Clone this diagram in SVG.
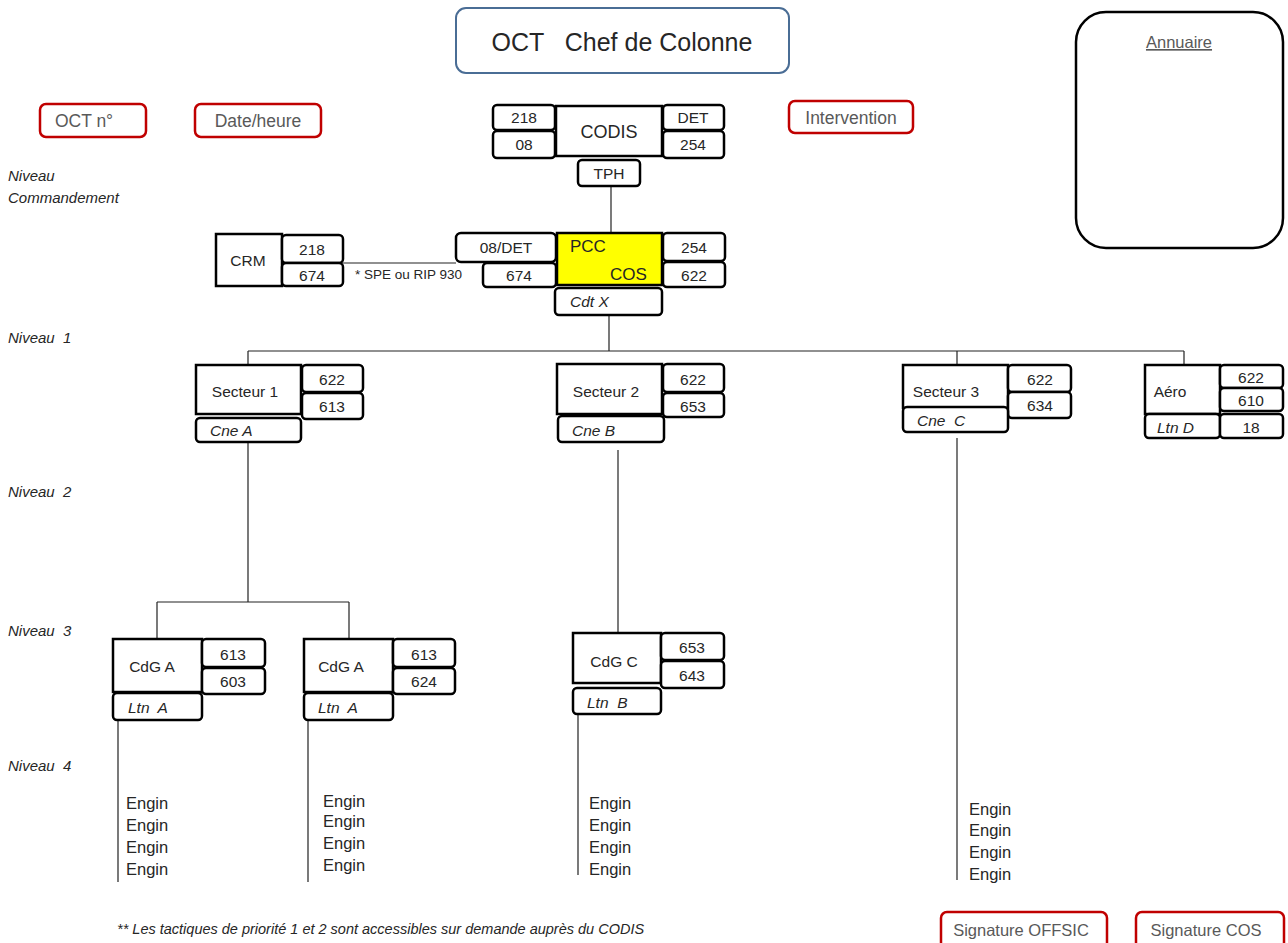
<svg xmlns="http://www.w3.org/2000/svg" width="1288" height="943" viewBox="0 0 1288 943">
<style>
text{font-family:"Liberation Sans",Arial,sans-serif;fill:#262626}
.b{fill:#fff;stroke:#000;stroke-width:2.5}
.r{fill:#fff;stroke:#c00000;stroke-width:2.5}
.rt{fill:#595959;font-size:17.5px}
.st{fill:#595959;font-size:16.5px}
.t{font-size:15.5px}
.e{font-size:16.5px}
.c{text-anchor:middle}
.i{font-style:italic}
.lv{font-size:15px;font-style:italic}
.ln{stroke:#222;stroke-width:1.2;fill:none}
</style>
<rect width="1288" height="943" fill="#fff"/>

<g id="title"><rect x="456" y="8" width="333" height="65" rx="10" fill="#fff" stroke="#4a6d95" stroke-width="2"/><text x="622" y="51" class="c" style="font-size:25px" xml:space="preserve">OCT   Chef de Colonne</text></g>
<g id="annuaire"><rect x="1076" y="12" width="207" height="236" rx="30" fill="#fff" stroke="#000" stroke-width="2.5"/><text x="1179" y="48" class="c" style="font-size:16.5px;fill:#595959;text-decoration:underline">Annuaire</text></g>

<g id="oct-n"><rect class="r" x="40" y="104" width="106" height="33" rx="6"/><text x="84" y="127" class="rt c">OCT n°</text></g>
<g id="date"><rect class="r" x="195" y="104" width="126" height="33" rx="6"/><text x="258" y="127" class="rt c">Date/heure</text></g>
<g id="intervention"><rect class="r" x="789" y="101" width="124" height="32" rx="6"/><text x="851" y="124" class="rt c">Intervention</text></g>
<g id="sig-offsic"><rect class="r" x="941" y="912" width="166" height="40" rx="6"/><text x="1021" y="936" class="st c">Signature OFFSIC</text></g>
<g id="sig-cos"><rect class="r" x="1136" y="912" width="148" height="40" rx="6"/><text x="1206" y="936" class="st c">Signature COS</text></g>

<g id="niveaux">
<text x="8" y="181" class="lv">Niveau</text><text x="8" y="203" class="lv">Commandement</text>
<text x="8" y="343" class="lv" xml:space="preserve">Niveau  1</text>
<text x="8" y="497" class="lv" xml:space="preserve">Niveau  2</text>
<text x="8" y="636" class="lv" xml:space="preserve">Niveau  3</text>
<text x="8" y="771" class="lv" xml:space="preserve">Niveau  4</text>
</g>

<g id="connectors">
<path class="ln" d="M611 187V233"/>
<path class="ln" d="M343 263H456"/>
<path class="ln" d="M609 315V351M248 351H1184M248 351V365M957 351V365M1184 351V365"/>
<path class="ln" d="M248 442V602M157 602H349M157 602V639M349 602V639"/>
<path class="ln" d="M618 450V633"/>
<path class="ln" d="M957 438V880"/>
<path class="ln" d="M118 720V882M308 720V882M578 714V875"/>
</g>

<g id="codis">
<rect class="b" x="556" y="106" width="106" height="50"/><text x="609" y="138" class="c" style="font-size:18px">CODIS</text>
<rect class="b" x="493" y="105" width="62" height="25" rx="4"/><text x="524" y="123" class="t c">218</text>
<rect class="b" x="493" y="131" width="62" height="27" rx="4"/><text x="524" y="150" class="t c">08</text>
<rect class="b" x="663" y="105" width="61" height="25" rx="4"/><text x="693" y="123" class="t c">DET</text>
<rect class="b" x="663" y="131" width="61" height="27" rx="4"/><text x="693" y="150" class="t c">254</text>
</g>
<g id="tph"><rect class="b" x="578" y="160" width="62" height="26" rx="4"/><text x="609" y="179" class="t c">TPH</text></g>

<g id="pcc">
<rect x="557" y="233" width="105" height="52" fill="#ffff00" stroke="#000" stroke-width="2.5"/>
<text x="570" y="252" style="font-size:17px">PCC</text><text x="610" y="280" style="font-size:17px">COS</text>
<rect class="b" x="456" y="233" width="100" height="29" rx="5"/><text x="506" y="253" class="t c">08/DET</text>
<rect class="b" x="483" y="263" width="73" height="24" rx="4"/><text x="519" y="281" class="t c">674</text>
<rect class="b" x="663" y="233" width="62" height="28" rx="4"/><text x="694" y="253" class="t c">254</text>
<rect class="b" x="663" y="262" width="62" height="25" rx="4"/><text x="694" y="281" class="t c">622</text>
</g>
<g id="cdt-x"><rect class="b" x="555" y="288" width="107" height="27" rx="4"/><text x="570" y="307" class="t i">Cdt X</text></g>

<g id="crm">
<rect class="b" x="216" y="234" width="66" height="52"/><text x="248" y="266" class="t c">CRM</text>
<rect class="b" x="282" y="235" width="61" height="28" rx="4"/><text x="312" y="255" class="t c">218</text>
<rect class="b" x="282" y="263" width="61" height="23" rx="4"/><text x="312" y="281" class="t c">674</text>
<text x="355" y="279" style="font-size:13.5px">* SPE ou RIP 930</text>
</g>

<g id="secteur1">
<rect class="b" x="196" y="365" width="105" height="49"/><text x="245" y="397" class="t c">Secteur 1</text>
<rect class="b" x="302" y="365" width="61" height="27" rx="4"/><text x="332" y="385" class="t c">622</text>
<rect class="b" x="302" y="393" width="61" height="26" rx="4"/><text x="332" y="412" class="t c">613</text>
<rect class="b" x="196" y="418" width="105" height="24" rx="4"/><text x="210" y="436" class="t i">Cne A</text>
</g>
<g id="secteur2">
<rect class="b" x="557" y="364" width="105" height="50"/><text x="606" y="397" class="t c">Secteur 2</text>
<rect class="b" x="663" y="364" width="61" height="28" rx="4"/><text x="693" y="385" class="t c">622</text>
<rect class="b" x="663" y="393" width="61" height="24" rx="4"/><text x="693" y="412" class="t c">653</text>
<rect class="b" x="558" y="416" width="106" height="26" rx="4"/><text x="572" y="436" class="t i">Cne B</text>
</g>
<g id="secteur3">
<rect class="b" x="903" y="365" width="105" height="43"/><text x="946" y="397" class="t c">Secteur 3</text>
<rect class="b" x="1008" y="365" width="63" height="27" rx="4"/><text x="1040" y="385" class="t c">622</text>
<rect class="b" x="1008" y="392" width="63" height="26" rx="4"/><text x="1040" y="411" class="t c">634</text>
<rect class="b" x="903" y="407" width="105" height="25" rx="4"/><text x="917" y="426" class="t i" xml:space="preserve">Cne  C</text>
</g>
<g id="aero">
<rect class="b" x="1145" y="365" width="75" height="49"/><text x="1170" y="397" class="t c">Aéro</text>
<rect class="b" x="1220" y="365" width="63" height="23" rx="4"/><text x="1251" y="383" class="t c">622</text>
<rect class="b" x="1220" y="388" width="63" height="23" rx="4"/><text x="1251" y="406" class="t c">610</text>
<rect class="b" x="1145" y="414" width="75" height="24" rx="4"/><text x="1157" y="433" class="t i">Ltn D</text>
<rect class="b" x="1220" y="414" width="63" height="24" rx="4"/><text x="1251" y="433" class="t c">18</text>
</g>

<g id="cdg-a1">
<rect class="b" x="113" y="639" width="89" height="53"/><text x="152" y="672" class="t c">CdG A</text>
<rect class="b" x="202" y="639" width="63" height="28" rx="4"/><text x="233" y="660" class="t c">613</text>
<rect class="b" x="202" y="668" width="63" height="26" rx="4"/><text x="233" y="687" class="t c">603</text>
<rect class="b" x="113" y="693" width="89" height="27" rx="4"/><text x="128" y="713" class="t i" xml:space="preserve">Ltn  A</text>
</g>
<g id="cdg-a2">
<rect class="b" x="304" y="639" width="89" height="53"/><text x="341" y="672" class="t c">CdG A</text>
<rect class="b" x="393" y="639" width="62" height="28" rx="4"/><text x="424" y="660" class="t c">613</text>
<rect class="b" x="393" y="668" width="62" height="26" rx="4"/><text x="424" y="687" class="t c">624</text>
<rect class="b" x="304" y="693" width="89" height="27" rx="4"/><text x="318" y="713" class="t i" xml:space="preserve">Ltn  A</text>
</g>
<g id="cdg-c">
<rect class="b" x="573" y="633" width="88" height="50"/><text x="614" y="667" class="t c">CdG C</text>
<rect class="b" x="661" y="633" width="63" height="27" rx="4"/><text x="692" y="653" class="t c">653</text>
<rect class="b" x="661" y="661" width="63" height="27" rx="4"/><text x="692" y="681" class="t c">643</text>
<rect class="b" x="573" y="688" width="88" height="26" rx="4"/><text x="587" y="708" class="t i" xml:space="preserve">Ltn  B</text>
</g>

<g id="engins">
<text x="126" y="809" class="e">Engin</text><text x="126" y="831" class="e">Engin</text><text x="126" y="853" class="e">Engin</text><text x="126" y="875" class="e">Engin</text>
<text x="323" y="807" class="e">Engin</text><text x="323" y="827" class="e">Engin</text><text x="323" y="849" class="e">Engin</text><text x="323" y="871" class="e">Engin</text>
<text x="589" y="809" class="e">Engin</text><text x="589" y="831" class="e">Engin</text><text x="589" y="853" class="e">Engin</text><text x="589" y="875" class="e">Engin</text>
<text x="969" y="815" class="e">Engin</text><text x="969" y="836" class="e">Engin</text><text x="969" y="858" class="e">Engin</text><text x="969" y="880" class="e">Engin</text>
</g>

<text x="117" y="934" class="i" style="font-size:14.5px">** Les tactiques de priorité 1 et 2 sont accessibles sur demande auprès du CODIS</text>
</svg>
